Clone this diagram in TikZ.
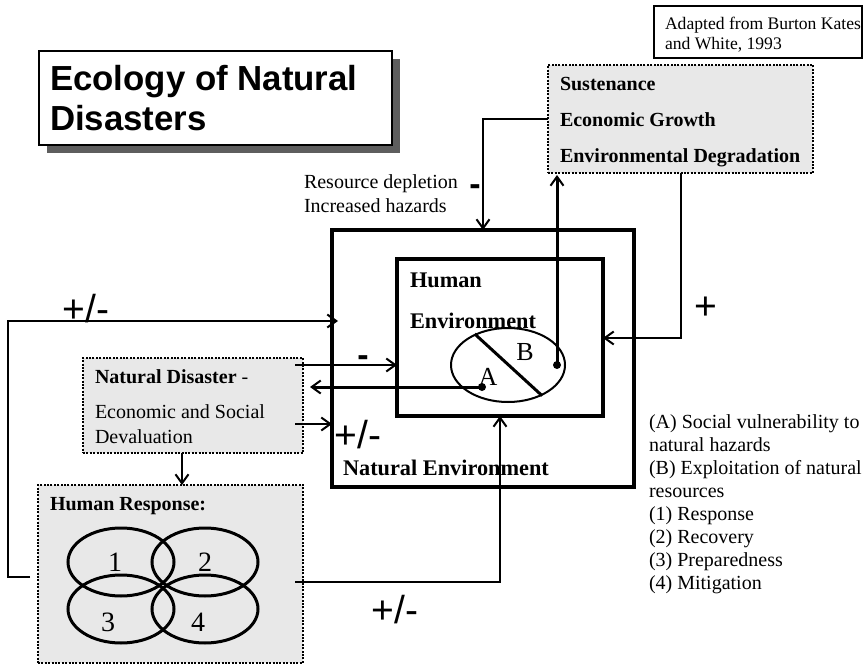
\documentclass[tikz,border=0pt]{standalone}
\usepackage{fontspec}
\setmainfont{Liberation Serif}
\newfontfamily\sansf{Liberation Sans}
\usetikzlibrary{arrows.meta,shapes.geometric,calc}
\definecolor{boxgray}{HTML}{E8E8E8}
\definecolor{shadowgray}{HTML}{5E5E5E}
\begin{document}
\begin{tikzpicture}[x=1pt,y=-1pt,
  txt/.style={anchor=base west, inner sep=0pt, outer sep=0pt},
  ctxt/.style={anchor=center, inner sep=0pt, outer sep=0pt},
  conn/.style={line width=2pt},
  tconn/.style={line width=3pt},
  arr/.style={-{Straight Barb[length=9pt,width=13pt,line width=2pt]}},
  envbox/.style={draw, line width=4pt, inner sep=0pt, outer sep=0pt},
  dotbox/.style={draw, fill=boxgray, line width=2.5pt, dash pattern=on 2pt off 1.4pt, inner sep=0pt, outer sep=0pt},
  plainbox/.style={draw, line width=1.5pt, fill=white, inner sep=0pt, outer sep=0pt},
  sgn/.style={ctxt, font=\sansf\fontsize{39}{39}\selectfont},
  minus/.style={ctxt, font=\sansf\bfseries\fontsize{34}{34}\selectfont},
  rm20/.style={txt, font=\fontsize{20}{23}\selectfont},
  bf20/.style={txt, font=\bfseries\fontsize{20}{23}\selectfont},
  bf22/.style={txt, font=\bfseries\fontsize{22.3}{25}\selectfont},
  num/.style={ctxt, font=\fontsize{28}{28}\selectfont},
  lettr/.style={ctxt, font=\fontsize{26}{26}\selectfont},
  dot/.style={circle, fill=black, inner sep=0pt, minimum size=8pt}
]
\useasboundingbox (0,0) rectangle (867,666);

% Title with shadow
\fill[shadowgray] (47,59) rectangle (400,153);
\node[plainbox, minimum width=353pt, minimum height=94pt] (title) at (215.5,98) {};
\node[txt, font=\sansf\bfseries\fontsize{34.8}{40}\selectfont] (t1) at (50,91) {Ecology of Natural};
\node[txt, font=\sansf\bfseries\fontsize{34.8}{40}\selectfont] (t2) at (50,131) {Disasters};

% Source box
\node[plainbox, line width=1.3pt, minimum width=208pt, minimum height=52pt] (adapt) at (758,32) {};
\node[txt, font=\fontsize{17.6}{20}\selectfont] (a1) at (665,30) {Adapted from Burton Kates};
\node[txt, font=\fontsize{17.6}{20}\selectfont] (a2) at (665,50) {and White, 1993};

% Sustenance box
\node[dotbox, minimum width=265pt, minimum height=108pt] (sus) at (680.5,119) {};
\node[bf20] (s1) at (560,91) {Sustenance};
\node[bf20] (s2) at (560,127) {Economic Growth};
\node[bf20] (s3) at (560,162) {Environmental Degradation};

% Environment boxes
\node[envbox, minimum width=302pt, minimum height=257pt] (outer) at (483,358.5) {};
\node[envbox, minimum width=206pt, minimum height=157pt] (inner) at (500,337.5) {};
\node[bf22] (h1) at (410,287) {Human};
\node[bf22] (h2) at (410,328) {Environment};
\node[bf22] (ne) at (343,475) {Natural Environment};

% A/B ellipse
\node[draw, ellipse, line width=2pt, minimum width=114pt, minimum height=74pt, inner sep=0pt] (ell) at (508,365) {};
\draw[tconn] (ell.137) -- (ell.-42);
\node[lettr] (lb) at (525,352) {B};
\node[lettr] (la) at (488,377) {A};
\node[dot] (dB) at (557,365) {};
\node[dot] (dA) at (482,387) {};

% Natural disaster box
\node[dotbox, minimum width=220pt, minimum height=95pt] (nd) at (193,405.5) {};
\node[txt, font=\fontsize{20}{23}\selectfont] (n1) at (95,383) {\textbf{Natural Disaster} -};
\node[rm20] (n2) at (95,418) {Economic and Social};
\node[rm20] (n3) at (95,443) {Devaluation};

% Human response box
\node[dotbox, minimum width=265pt, minimum height=178pt] (hr) at (170.5,574) {};
\node[bf20] (r1) at (50,510) {Human Response:};
\draw[line width=3pt] (121,562) ellipse [x radius=53, y radius=34];
\draw[line width=3pt] (205,562) ellipse [x radius=53, y radius=34];
\draw[line width=3pt] (121,609) ellipse [x radius=53, y radius=34];
\draw[line width=3pt] (205,609) ellipse [x radius=53, y radius=34];
\node[num] (d1) at (115,562) {1};
\node[num] (d2) at (205,562) {2};
\node[num] (d3) at (108,622) {3};
\node[num] (d4) at (198,622) {4};

% Legend
\foreach \t [count=\i from 0] in {(A) Social vulnerability to, natural hazards, (B) Exploitation of natural, resources, (1) Response, (2) Recovery, (3) Preparedness, (4) Mitigation}
  \node[rm20] (leg\i) at (649,428+23*\i) {\t};

% Labels
\node[rm20] (rd1) at (304,188) {Resource depletion};
\node[rm20] (rd2) at (304,212) {Increased hazards};
\node[minus] (m1) at (475,190) {-};
\node[minus] (m2) at (363,361) {-};
\node[sgn] (p1) at (706,308) {+};
\node[sgn] (pm1) at (86,309) {+/-};
\node[sgn] (pm2) at (358,435) {+/-};
\node[sgn] (pm3) at (395,610) {+/-};

% Connectors
\coordinate (rdTop) at (483,119);
\draw[conn,arr] (sus.west) -- (rdTop) -- (rdTop |- outer.north);
\draw[tconn,arr] (dB.center) -- (557,175);
\coordinate (aEnd) at (310,387);
\draw[tconn,arr] (dA.center) -- (aEnd);
\coordinate (nd1) at (295,365);
\draw[conn,arr] (nd1) -- (nd1 -| inner.west);
\coordinate (nd2) at (295,424);
\draw[conn,arr] (nd2) -- (nd2 -| outer.west);
\coordinate (rc) at (680.5,338);
\draw[conn,arr] (sus.south) -- (rc) -- (rc -| inner.east);
\coordinate (ndb) at (182,453);
\draw[conn,arr] (ndb) -- (ndb |- hr.north);
\coordinate (l0) at (30,577);
\coordinate (l1) at (8,577);
\coordinate (l2) at (8,321);
\coordinate (l3) at (338,321);
\draw[conn,arr] (l0) -- (l1) -- (l2) -- (l3);
\coordinate (b0) at (295,582);
\draw[conn,arr] (b0) -| (inner.south);
\end{tikzpicture}
\end{document}
